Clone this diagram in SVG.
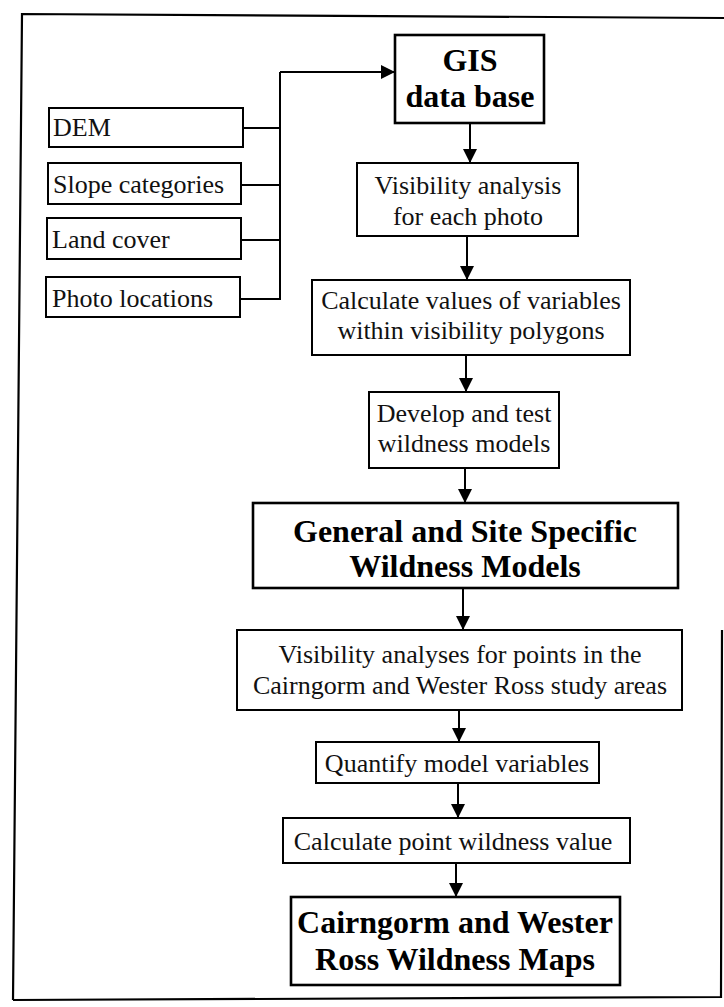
<svg xmlns="http://www.w3.org/2000/svg" width="724" height="1007" viewBox="0 0 724 1007">
  <style>
    .box { fill: #ffffff; stroke: #000000; stroke-width: 2; }
    .bold-box { fill: #ffffff; stroke: #000000; stroke-width: 2.6; }
    .t { font-family: "Liberation Serif", "Times New Roman", serif; font-size: 26px; fill: #111111; }
    .tb { font-family: "Liberation Serif", "Times New Roman", serif; font-size: 32px; font-weight: bold; fill: #000000; }
    .c { text-anchor: middle; }
    .link { fill: none; stroke: #000000; stroke-width: 2; }
    .frame { fill: none; stroke: #000000; stroke-width: 2.2; }
  </style>
  <defs>
    <marker id="arrow" markerUnits="userSpaceOnUse" markerWidth="16" markerHeight="16" viewBox="0 0 16 16" refX="15" refY="8" orient="auto">
      <path d="M1,1 L15,8 L1,15 Z" fill="#000000"/>
    </marker>
  </defs>

  <rect width="724" height="1007" fill="#ffffff"/>

  <!-- page frame -->
  <g id="frame">
    <path class="frame" d="M13,1000 L22,14 L724,18"/>
    <path class="frame" d="M13,1000 L721,997 L722,630"/>
  </g>

  <!-- connectors -->
  <g id="connectors">
    <path class="link" d="M243,128 H280"/>
    <path class="link" d="M241,185 H280"/>
    <path class="link" d="M241,240 H280"/>
    <path class="link" d="M240,299 H280 V72"/>
    <path class="link" d="M280,72 H395" marker-end="url(#arrow)"/>
    <path class="link" d="M470,123 V163" marker-end="url(#arrow)"/>
    <path class="link" d="M467,236 V280" marker-end="url(#arrow)"/>
    <path class="link" d="M466,355 V392" marker-end="url(#arrow)"/>
    <path class="link" d="M465,468 V503" marker-end="url(#arrow)"/>
    <path class="link" d="M463,588 V630" marker-end="url(#arrow)"/>
    <path class="link" d="M459,710 V742" marker-end="url(#arrow)"/>
    <path class="link" d="M458,783 V818" marker-end="url(#arrow)"/>
    <path class="link" d="M456,863 V897" marker-end="url(#arrow)"/>
  </g>

  <!-- input layers -->
  <g id="dem">
    <rect class="box" x="49" y="108" width="194" height="39"/>
    <text class="t" x="53" y="136">DEM</text>
  </g>
  <g id="slope">
    <rect class="box" x="48" y="163" width="193" height="41"/>
    <text class="t" x="53" y="193">Slope categories</text>
  </g>
  <g id="landcover">
    <rect class="box" x="47" y="218" width="194" height="41"/>
    <text class="t" x="52" y="248">Land cover</text>
  </g>
  <g id="photos">
    <rect class="box" x="46" y="277" width="194" height="40"/>
    <text class="t" x="52" y="307">Photo locations</text>
  </g>

  <!-- processing chain -->
  <g id="gis">
    <rect class="bold-box" x="395" y="35" width="149" height="88"/>
    <text class="tb c" x="470" y="71">GIS</text>
    <text class="tb c" x="470" y="107">data base</text>
  </g>
  <g id="visibility">
    <rect class="box" x="357" y="163" width="221" height="73"/>
    <text class="t c" x="468" y="194">Visibility analysis</text>
    <text class="t c" x="468" y="225">for each photo</text>
  </g>
  <g id="calc-values">
    <rect class="box" x="312" y="280" width="318" height="75"/>
    <text class="t c" x="471" y="309">Calculate values of variables</text>
    <text class="t c" x="471" y="339">within visibility polygons</text>
  </g>
  <g id="develop">
    <rect class="box" x="369" y="392" width="190" height="76"/>
    <text class="t c" x="464" y="422">Develop and test</text>
    <text class="t c" x="464" y="452">wildness models</text>
  </g>
  <g id="models">
    <rect class="bold-box" x="253" y="503" width="425" height="85"/>
    <text class="tb c" x="465" y="542">General and Site Specific</text>
    <text class="tb c" x="465" y="577">Wildness Models</text>
  </g>
  <g id="visibility-points">
    <rect class="box" x="237" y="630" width="445" height="80"/>
    <text class="t c" x="460" y="663">Visibility analyses for points in the</text>
    <text class="t c" x="460" y="694">Cairngorm and Wester Ross study areas</text>
  </g>
  <g id="quantify">
    <rect class="box" x="316" y="742" width="283" height="41"/>
    <text class="t c" x="457" y="772">Quantify model variables</text>
  </g>
  <g id="point-value">
    <rect class="box" x="283" y="818" width="347" height="45"/>
    <text class="t c" x="453" y="850">Calculate point wildness value</text>
  </g>
  <g id="maps">
    <rect class="bold-box" x="291" y="897" width="329" height="88"/>
    <text class="tb c" x="455" y="933">Cairngorm and Wester</text>
    <text class="tb c" x="455" y="970">Ross Wildness Maps</text>
  </g>
</svg>
